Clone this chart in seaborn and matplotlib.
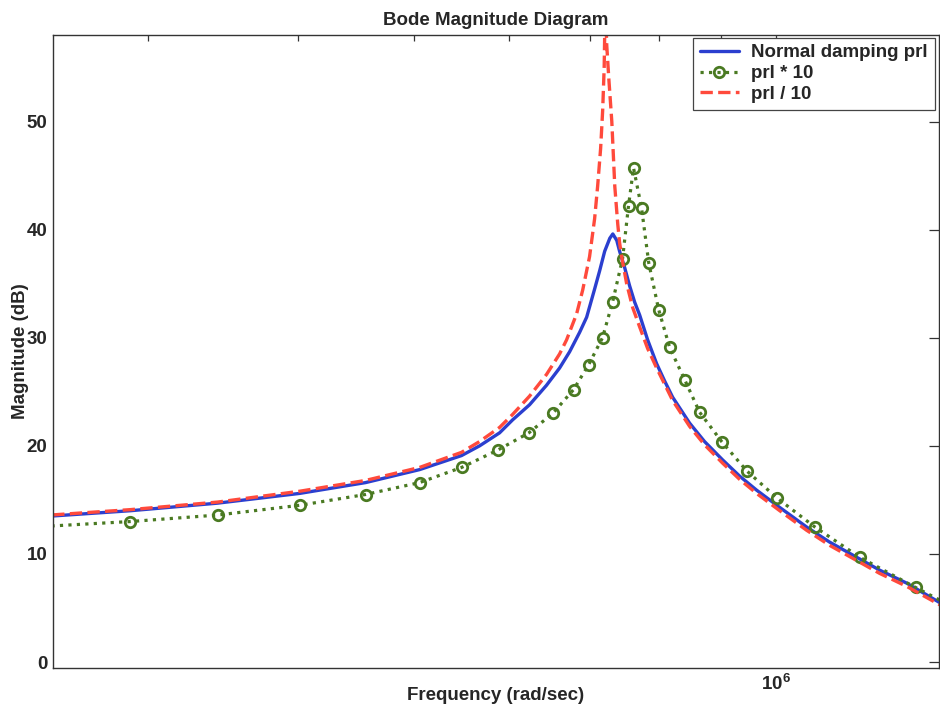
import numpy as np
import pandas as pd
import matplotlib
matplotlib.use("Agg")
import matplotlib.pyplot as plt
import seaborn as sns
from matplotlib.ticker import LogLocator, NullFormatter

# Frequency grids (rad/sec) and magnitudes (dB) for the three damping cases
freq_normal = [2.413e5, 2.488e5, 2.900e5, 3.428e5, 4.012e5, 4.553e5, 5.050e5, 5.474e5, 5.667e5, 5.888e5,
               6.037e5, 6.237e5, 6.443e5, 6.607e5, 6.735e5, 6.866e5, 6.959e5, 7.066e5, 7.135e5, 7.204e5,
               7.275e5, 7.317e5, 7.373e5, 7.413e5, 7.485e5, 7.557e5, 7.630e5, 7.704e5, 7.823e5, 7.959e5,
               8.082e5, 8.207e5, 8.479e5, 8.725e5, 9.033e5, 9.333e5, 9.642e5, 1.008e6, 1.061e6, 1.109e6,
               1.168e6, 1.221e6, 1.286e6, 1.370e6, 1.468e6]
mag_normal = [13.4, 13.5, 14.0, 14.7, 15.6, 16.6, 17.8, 19.1, 20.0, 21.2,
              22.4, 23.8, 25.6, 27.2, 28.7, 30.5, 31.9, 34.5, 36.2, 38.0,
              39.2, 39.6, 39.0, 38.0, 36.5, 34.8, 33.3, 32.1, 29.8, 27.6,
              26.0, 24.5, 22.1, 20.4, 18.7, 17.2, 15.9, 14.3, 12.5, 11.1,
              9.7, 8.5, 7.3, 5.5, 4.0]

freq_high = [2.413e5, 2.900e5, 3.428e5, 4.012e5, 4.553e5, 5.050e5, 5.474e5, 5.866e5, 6.228e5, 6.521e5,
             6.786e5, 6.985e5, 7.174e5, 7.314e5, 7.455e5, 7.541e5, 7.614e5, 7.732e5, 7.840e5, 7.990e5,
             8.160e5, 8.400e5, 8.644e5, 9.016e5, 9.458e5, 1.002e6, 1.078e6, 1.175e6, 1.308e6, 1.468e6]
mag_high = [12.5, 13.0, 13.6, 14.5, 15.5, 16.6, 18.0, 19.6, 21.2, 23.0,
            25.2, 27.5, 30.0, 33.3, 37.3, 42.2, 45.7, 42.0, 36.9, 32.6,
            29.1, 26.1, 23.1, 20.4, 17.7, 15.2, 12.5, 9.7, 6.9, 4.0]

freq_low = [2.413e5, 2.488e5, 2.900e5, 3.428e5, 4.012e5, 4.553e5, 5.050e5, 5.474e5, 5.667e5, 5.888e5,
            6.037e5, 6.237e5, 6.443e5, 6.607e5, 6.696e5, 6.826e5, 6.906e5, 6.998e5, 7.066e5, 7.107e5,
            7.148e5, 7.176e5, 7.197e5, 7.211e5, 7.233e5, 7.261e5, 7.303e5, 7.345e5, 7.387e5, 7.413e5,
            7.442e5, 7.514e5, 7.601e5, 7.704e5, 7.823e5, 7.959e5, 8.207e5, 8.479e5, 8.725e5, 9.033e5,
            9.333e5, 9.642e5, 1.008e6, 1.061e6, 1.109e6, 1.168e6, 1.221e6, 1.286e6, 1.370e6, 1.468e6]
mag_low = [13.5, 13.6, 14.1, 14.8, 15.8, 16.8, 18.0, 19.4, 20.4, 21.7,
           22.9, 24.6, 26.6, 28.5, 29.8, 32.2, 34.4, 37.5, 41.0, 44.0,
           47.5, 51.0, 55.0, 61.0, 57.0, 54.0, 50.0, 44.0, 40.5, 38.8,
           37.5, 35.0, 32.8, 31.0, 29.0, 27.2, 24.2, 21.8, 20.1, 18.4,
           16.9, 15.6, 14.0, 12.2, 10.8, 9.4, 8.2, 7.0, 5.3, 3.8]

series_labels = ["Normal damping prl", "prl * 10", "prl / 10"]
y_ticks = [0, 10, 20, 30, 40, 50]

BLUE = "#2b3fcf"
GREEN = "#4a7a22"
RED = "#ff4a3c"

sns.set_style("white")
plt.rcParams["font.family"] = ["Liberation Sans", "DejaVu Sans"]
plt.rcParams["font.weight"] = "bold"
plt.rcParams["mathtext.fontset"] = "custom"
plt.rcParams["mathtext.rm"] = "Liberation Sans:bold"
plt.rcParams["mathtext.bf"] = "Liberation Sans:bold"
plt.rcParams["mathtext.it"] = "Liberation Sans:bold"

FS = 13.5

fig = plt.figure(figsize=(9.4, 7.09), dpi=100)
ax = fig.add_axes([0.0564, 0.0578, 0.9425, 0.8928])

df_normal = pd.DataFrame({"freq": freq_normal, "mag": mag_normal})
df_high = pd.DataFrame({"freq": freq_high, "mag": mag_high})
df_low = pd.DataFrame({"freq": freq_low, "mag": mag_low})

sns.lineplot(data=df_normal, x="freq", y="mag", ax=ax, color=BLUE, linewidth=2.4,
             label=series_labels[0])
sns.lineplot(data=df_high, x="freq", y="mag", ax=ax, color=GREEN, linewidth=2.3,
             linestyle=":", marker="o", markersize=7.5, markeredgewidth=2.0,
             markerfacecolor="none", markeredgecolor=GREEN, label=series_labels[1])
sns.lineplot(data=df_low, x="freq", y="mag", ax=ax, color=RED, linewidth=2.4,
             linestyle="--", label=series_labels[2])

ax.set_xscale("log")
ax.set_xlim(2.5e5, 1.368e6)
ax.set_ylim(-0.55, 58.0)

ax.set_xticks([1e6])
ax.set_xticklabels([r"$\mathbf{10^{6}}$"])
ax.xaxis.set_minor_locator(LogLocator(base=10, subs=np.arange(2, 10)))
ax.xaxis.set_minor_formatter(NullFormatter())
ax.set_yticks(y_ticks)
ax.set_yticklabels([str(v) for v in y_ticks])

ax.tick_params(which="both", direction="in", top=True, right=True,
               labelsize=FS, color="#333333", width=0.9)
ax.tick_params(which="major", length=7, pad=4)
ax.tick_params(which="minor", length=4)
for lab in ax.get_yticklabels() + ax.get_xticklabels():
    lab.set_fontweight("bold")

for sp in ax.spines.values():
    sp.set_visible(True)
    sp.set_color("#333333")
    sp.set_linewidth(1.0)

ax.set_title("Bode Magnitude Diagram", fontsize=FS, fontweight="bold", pad=7)
ax.set_xlabel("Frequency (rad/sec)", fontsize=FS, fontweight="bold", va="center")
ax.xaxis.set_label_coords(0.5, -0.043)
ax.set_ylabel("Magnitude (dB)", fontsize=FS, fontweight="bold", va="center")
ax.yaxis.set_label_coords(-0.037, 0.5)

leg = ax.legend(loc="upper right", bbox_to_anchor=(0.995, 0.996), borderaxespad=0.0,
                frameon=True, fancybox=False, framealpha=1, edgecolor="#444444",
                prop={"weight": "bold", "size": FS}, handlelength=2.1,
                handletextpad=0.65, labelspacing=0.2, borderpad=0.35)
leg.get_frame().set_linewidth(0.9)

fig.savefig("out.png", dpi=100, facecolor="white")
